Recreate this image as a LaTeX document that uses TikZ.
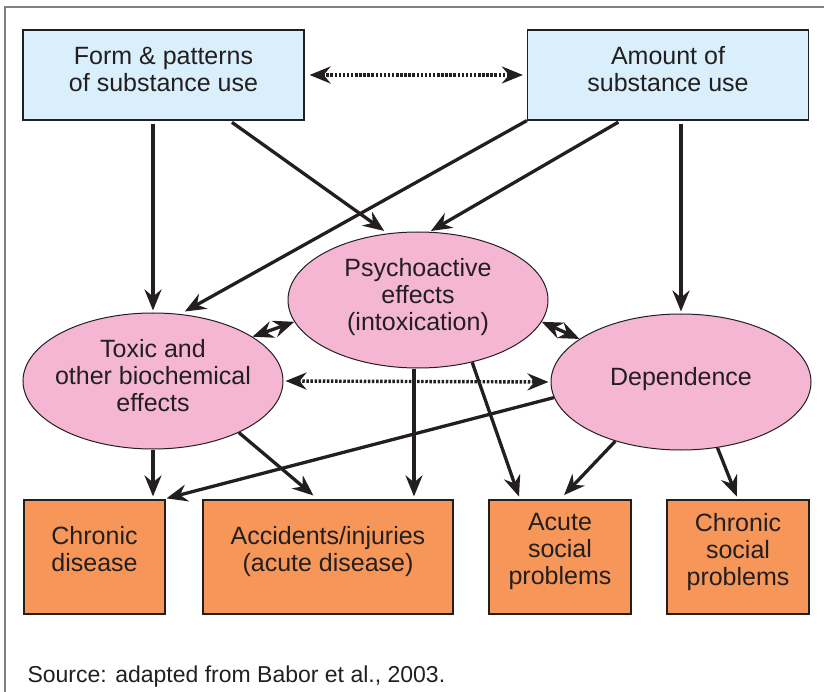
\documentclass[tikz,border=0pt]{standalone}
\usepackage{fontspec}
\setmainfont{Liberation Sans}
\usetikzlibrary{arrows.meta,shapes,positioning}

\definecolor{useblue}{RGB}{217,240,252}
\definecolor{effpink}{RGB}{245,182,212}
\definecolor{harmorange}{RGB}{247,150,89}
\definecolor{ink}{RGB}{35,31,32}

\begin{document}
\begin{tikzpicture}[
      x=1pt, y=-1pt,
      every node/.style={text=ink, align=center, font=\fontsize{25}{27}\selectfont},
      cause/.style={rectangle, draw=ink, line width=1.2pt, fill=useblue,
        minimum width=281pt, minimum height=90pt, inner sep=0pt, text depth=12pt},
      effect/.style={ellipse, draw=ink, line width=1pt, fill=effpink,
        minimum width=260pt, minimum height=136pt, inner xsep=-8pt, inner ysep=0pt,
        text depth=12pt},
      harm/.style={rectangle, draw=ink, line width=1.2pt, fill=harmorange,
        minimum height=114pt, inner sep=0pt, text depth=16pt},
      link/.style={->, draw=ink, line width=3.3pt},
      both/.style={<->, draw=ink, line width=3.3pt},
      dots/.style={<->, draw=ink, line width=3.4pt, dash pattern=on 2.5pt off 1.6pt},
      >={Stealth[length=21pt,width=17pt,inset=7pt]}
    ]
    \useasboundingbox (0,0) rectangle (824,692);
    \draw[gray, line width=1.2pt] (824,7) -- (5,7) -- (5,692);

    % patterns of use
    \node[cause] (form) at (163.5,75) {Form \& patterns\\of substance use};
    \node[cause] (amt) at (668,75) {Amount of\\substance use};

    % effects
    \node[effect] (psy) at (418,300) {Psychoactive\\effects\\(intoxication)};
    \node[effect] (tox) at (153,381) {Toxic and\\other biochemical\\effects};
    \node[effect] (dep) at (681,382) {Dependence};

    % harms
    \node[harm, minimum width=141pt] (chr) at (94.5,557) {Chronic\\disease};
    \node[harm, minimum width=250pt] (acc) at (328,557) {Accidents/injuries\\(acute disease)};
    \node[harm, minimum width=142pt] (acu) at (560,557) {Acute\\social\\problems};
    \node[harm, minimum width=142pt] (csp) at (738,557) {Chronic\\social\\problems};

    \node[anchor=base west, font=\fontsize{23}{25}\selectfont] (src) at (24,682)
      {Source: adapted from Babor et al., 2003.};

    % the arrows from use
    \draw[link, shorten <=3pt, shorten >=2pt] (tox.north |- form.south) -- (tox.north);
    \draw[link, shorten <=3pt, shorten >=1pt] ([xshift=66pt]form.south) -- ([xshift=-33pt]psy.north);
    \draw[link, shorten >=2pt] (amt.south west) -- ([xshift=30pt]tox.north);
    \draw[link, shorten <=3pt, shorten >=1pt] ([xshift=-47pt]amt.south) -- ([xshift=12pt]psy.north);
    \draw[link, shorten <=3pt, shorten >=2pt] (dep.north |- amt.south) -- (dep.north);
    \draw[dots, shorten <=5pt, shorten >=4pt] (form.east) -- (amt.west);

    % between the effects
    \draw[both] (psy.190) -- (tox.24);
    \draw[both] (psy.350) -- (dep.157);
    \draw[dots, shorten <=2pt, shorten >=2pt] (tox.east) -- (dep.west);

    % the arrows to harms
    \draw[link, shorten >=3pt] (tox.south) -- (tox.south |- chr.north);
    \draw[link, shorten >=4pt] (dep.187) -- ([xshift=-3pt]chr.north east);
    \draw[link, shorten >=6pt] (tox.329) -- ([xshift=-10pt]acc.north);
    \draw[link, shorten >=3pt] ([xshift=-4pt]psy.south) -- ([xshift=-4pt]psy.south |- acc.north);
    \draw[link, shorten >=3pt] (psy.311) -- ([xshift=-40pt]acu.north);
    \draw[link, shorten >=6pt] (dep.222) -- (acu.north);
    \draw[link, shorten >=3pt] (dep.299) -- (csp.north);
    \end{tikzpicture}
\end{document}
